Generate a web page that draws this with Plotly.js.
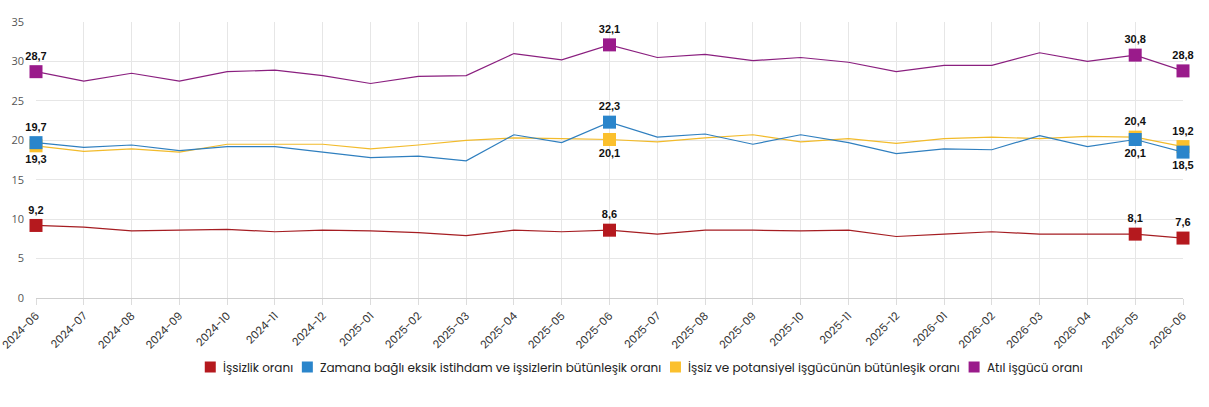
<!DOCTYPE html>
<html>
<head>
<meta charset="utf-8">
<script src="https://cdn.plot.ly/plotly-3.0.1.min.js"></script>
<style>
  html, body { margin: 0; padding: 0; background: #fff; }
  #chart { width: 1209px; height: 407px; }
</style>
</head>
<body>
<div id="chart"></div>
<script>
// Monthly labour-market rates (%), 2024-06 .. 2026-06
const months = [
  '2024-06','2024-07','2024-08','2024-09','2024-10','2024-11','2024-12',
  '2025-01','2025-02','2025-03','2025-04','2025-05','2025-06','2025-07',
  '2025-08','2025-09','2025-10','2025-11','2025-12','2026-01','2026-02',
  '2026-03','2026-04','2026-05','2026-06'
];

const issizlik = [9.2, 9.0, 8.5, 8.6, 8.7, 8.4, 8.6, 8.5, 8.3, 7.9, 8.6, 8.4, 8.6,
                  8.1, 8.6, 8.6, 8.5, 8.6, 7.8, 8.1, 8.4, 8.1, 8.1, 8.1, 7.6];
const zamanaBagli = [19.7, 19.1, 19.4, 18.7, 19.2, 19.2, 18.5, 17.8, 18.0, 17.4, 20.7, 19.7, 22.3,
                     20.4, 20.8, 19.5, 20.7, 19.7, 18.3, 18.9, 18.8, 20.6, 19.2, 20.1, 18.5];
const potansiyel = [19.3, 18.6, 18.9, 18.5, 19.5, 19.5, 19.5, 18.9, 19.4, 20.0, 20.3, 20.2, 20.1,
                    19.8, 20.3, 20.7, 19.8, 20.2, 19.6, 20.2, 20.4, 20.2, 20.5, 20.4, 19.2];
const atilIsgucu = [28.7, 27.5, 28.5, 27.5, 28.7, 28.9, 28.2, 27.2, 28.1, 28.2, 31.0, 30.2, 32.1,
                    30.5, 30.9, 30.1, 30.5, 29.9, 28.7, 29.5, 29.5, 31.1, 30.0, 30.8, 28.8];

// Months whose values are marked and labelled
const highlighted = ['2024-06', '2025-06', '2026-05', '2026-06'];

// Series in legend order
const seriesDefs = [
  { name: 'İşsizlik oranı', values: issizlik, line: '#a51d22', marker: '#b5191e' },
  { name: 'Zamana bağlı eksik istihdam ve işsizlerin bütünleşik oranı', values: zamanaBagli, line: '#2f7fbf', marker: '#2a85cb' },
  { name: 'İşsiz ve potansiyel işgücünün bütünleşik oranı', values: potansiyel, line: '#f2bb2b', marker: '#fbc02d' },
  { name: 'Atıl işgücü oranı', values: atilIsgucu, line: '#8a1f7f', marker: '#9a1b8b' }
];
// Drawing order (blue squares sit on top of the yellow ones)
const drawOrder = [0, 2, 1, 3];

const W = 1209, H = 407;
const M = { l: 36, r: 26, t: 22, b: 109 };
const plotW = W - M.l - M.r, plotH = H - M.t - M.b;

function fmt(v) { return v.toFixed(1).replace('.', ','); }

// Label placement: the upper of the two middle series labels above, the lower one below
function labelPos(idx, i) {
  if (idx === 0 || idx === 3) return 'top center';
  const other = idx === 1 ? potansiyel[i] : zamanaBagli[i];
  const mine = seriesDefs[idx].values[i];
  return mine >= other ? 'top center' : 'bottom center';
}

const traces = drawOrder.map(idx => {
  const s = seriesDefs[idx];
  return {
    x: months,
    y: s.values,
    type: 'scatter',
    mode: 'lines+markers+text',
    name: s.name,
    line: { color: s.line, width: 1.2 },
    marker: {
      symbol: 'square',
      size: months.map(m => highlighted.includes(m) ? 13 : 0),
      color: s.marker, opacity: 1, line: { width: 0 }
    },
    text: months.map((m, i) => highlighted.includes(m) ? fmt(s.values[i]) : ''),
    textposition: months.map((m, i) => labelPos(idx, i)),
    textfont: { family: 'Liberation Sans, Arial, sans-serif', size: 11, color: '#111', weight: 'bold' },
    cliponaxis: false,
    showlegend: false,
    hoverinfo: 'skip'
  };
});

// Legend row below the axis: small squares followed by the series names
const legendFont = { family: 'Poppins, Inter, Open Sans, sans-serif', size: 12, color: '#222' };
const ctx = document.createElement('canvas').getContext('2d');
ctx.font = legendFont.size + 'px ' + legendFont.family;
const box = 11, boxGap = 6, itemGap = 10, legendCenterPx = 643, legendMidPx = 367;
const widths = seriesDefs.map(s => ctx.measureText(s.name).width);
const totalW = widths.reduce((a, w) => a + box + boxGap + w, 0) + itemGap * (seriesDefs.length - 1);
const px2x = px => (px - M.l) / plotW;
const px2y = py => (H - M.b - py) / plotH;

const shapes = [], annotations = [];
let cursor = legendCenterPx - totalW / 2;
seriesDefs.forEach((s, i) => {
  shapes.push({
    type: 'rect', xref: 'paper', yref: 'paper',
    x0: px2x(cursor), x1: px2x(cursor + box),
    y0: px2y(legendMidPx + box / 2), y1: px2y(legendMidPx - box / 2),
    fillcolor: s.marker, line: { width: 0 }
  });
  annotations.push({
    xref: 'paper', yref: 'paper',
    x: px2x(cursor + box + boxGap - 1), y: px2y(legendMidPx),
    xanchor: 'left', yanchor: 'middle',
    text: s.name, showarrow: false,
    font: legendFont
  });
  cursor += box + boxGap + widths[i] + itemGap;
});

const layout = {
  width: W,
  height: H,
  margin: M,
  paper_bgcolor: '#fff',
  plot_bgcolor: '#fff',
  showlegend: false,
  shapes: shapes,
  annotations: annotations,
  xaxis: {
    type: 'category',
    range: [0, months.length - 1],
    tickangle: -45,
    tickfont: { family: 'Poppins, Inter, Open Sans, sans-serif', size: 11, color: '#333' },
    showgrid: true,
    gridcolor: '#e6e6e6',
    gridwidth: 1,
    showline: true,
    linecolor: '#cfcfcf',
    linewidth: 1,
    ticks: 'outside',
    ticklen: 6,
    tickcolor: '#dcdcdc',
    zeroline: false,
    fixedrange: true
  },
  yaxis: {
    range: [0, 35],
    dtick: 5,
    tickfont: { family: 'Open Sans, sans-serif', size: 11, color: '#555' },
    showgrid: true,
    gridcolor: '#e6e6e6',
    gridwidth: 1,
    zeroline: false,
    ticks: '',
    ticklabelstandoff: 11,
    fixedrange: true
  },
  font: { family: 'Open Sans, sans-serif' },
  hovermode: false
};

Plotly.newPlot('chart', traces, layout, { displayModeBar: false, staticPlot: true });
</script>
</body>
</html>
